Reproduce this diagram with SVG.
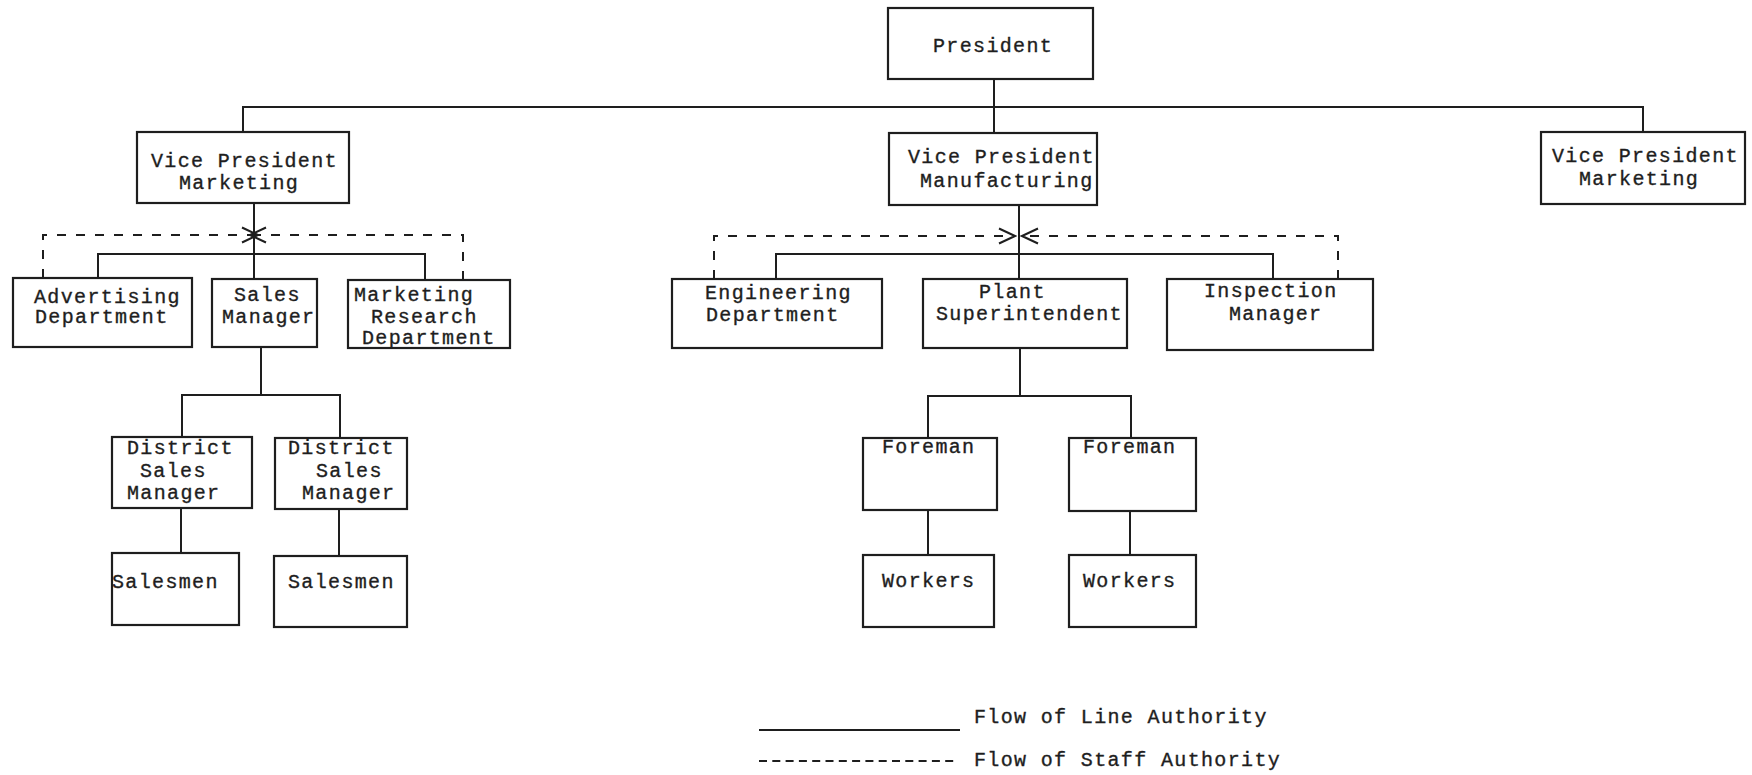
<svg xmlns="http://www.w3.org/2000/svg" width="1752" height="775" viewBox="0 0 1752 775">
  <style>
    .box { fill: #ffffff; stroke: #1e1e1e; stroke-width: 2.2; }
    .lbl { font-family: "Liberation Mono", "DejaVu Sans Mono", monospace; font-size: 20px; letter-spacing: 1.35px; fill: #1e1e1e; stroke: #1e1e1e; stroke-width: 0.35; }
    .line { fill: none; stroke: #1e1e1e; stroke-width: 2; }
    .staff { fill: none; stroke: #1e1e1e; stroke-width: 2; stroke-dasharray: 9 10; }
  </style>
  <defs>
    <marker id="chev" markerUnits="userSpaceOnUse" markerWidth="20" markerHeight="20" viewBox="-2 -2 20 20" refX="16" refY="7.5" orient="auto">
      <path d="M0,0 L16,7.5 L0,15" fill="none" stroke="#1e1e1e" stroke-width="2"/>
    </marker>
  </defs>
  <rect width="1752" height="775" fill="#ffffff"/>

  <!-- line authority and staff authority connectors -->
  <g id="connectors">
    <path class="line" d="M243 132 V107 H1643 V132"/>
    <path class="line" d="M994 79 V133"/>
    <path class="line" d="M254 203 V279"/>
    <path class="line" d="M98 278 V254 H425 V280"/>
    <path class="line" d="M261 347 V395"/>
    <path class="line" d="M182 437 V395 H340 V438"/>
    <path class="line" d="M181 508 V553"/>
    <path class="line" d="M339 509 V556"/>
    <path class="line" d="M1019 205 V279"/>
    <path class="line" d="M776 279 V254 H1273 V279"/>
    <path class="line" d="M1020 348 V396"/>
    <path class="line" d="M928 438 V396 H1131 V438"/>
    <path class="line" d="M928 510 V555"/>
    <path class="line" d="M1130 511 V555"/>
    <path class="staff" d="M43 278 V235 H258" marker-end="url(#chev)"/>
    <path class="staff" d="M463 280 V235 H250" marker-end="url(#chev)"/>
    <path class="staff" d="M714 279 V236 H1015" marker-end="url(#chev)"/>
    <path class="staff" d="M1338 279 V236 H1022" marker-end="url(#chev)"/>
  </g>

  <g id="president">
    <rect class="box" x="888" y="8" width="205" height="71"/>
    <text class="lbl" x="933" y="52">President</text>
  </g>
  <g id="vp-marketing-left">
    <rect class="box" x="137" y="132" width="212" height="71"/>
    <text class="lbl" x="151" y="167">Vice President</text>
    <text class="lbl" x="179" y="189">Marketing</text>
  </g>
  <g id="vp-manufacturing">
    <rect class="box" x="889" y="133" width="208" height="72"/>
    <text class="lbl" x="908" y="163">Vice President</text>
    <text class="lbl" x="920" y="187">Manufacturing</text>
  </g>
  <g id="vp-marketing-right">
    <rect class="box" x="1541" y="132" width="204" height="72"/>
    <text class="lbl" x="1552" y="162">Vice President</text>
    <text class="lbl" x="1579" y="185">Marketing</text>
  </g>
  <g id="advertising">
    <rect class="box" x="13" y="278" width="179" height="69"/>
    <text class="lbl" x="34" y="303">Advertising</text>
    <text class="lbl" x="35" y="323">Department</text>
  </g>
  <g id="sales-manager">
    <rect class="box" x="212" y="279" width="105" height="68"/>
    <text class="lbl" x="234" y="301">Sales</text>
    <text class="lbl" x="222" y="323">Manager</text>
  </g>
  <g id="marketing-research">
    <rect class="box" x="348" y="280" width="162" height="68"/>
    <text class="lbl" x="354" y="301">Marketing</text>
    <text class="lbl" x="371" y="323">Research</text>
    <text class="lbl" x="362" y="344">Department</text>
  </g>
  <g id="engineering">
    <rect class="box" x="672" y="279" width="210" height="69"/>
    <text class="lbl" x="705" y="299">Engineering</text>
    <text class="lbl" x="706" y="321">Department</text>
  </g>
  <g id="plant-superintendent">
    <rect class="box" x="923" y="279" width="204" height="69"/>
    <text class="lbl" x="979" y="298">Plant</text>
    <text class="lbl" x="936" y="320">Superintendent</text>
  </g>
  <g id="inspection-manager">
    <rect class="box" x="1167" y="279" width="206" height="71"/>
    <text class="lbl" x="1204" y="297">Inspection</text>
    <text class="lbl" x="1229" y="320">Manager</text>
  </g>
  <g id="district-1">
    <rect class="box" x="112" y="437" width="140" height="71"/>
    <text class="lbl" x="127" y="454">District</text>
    <text class="lbl" x="140" y="477">Sales</text>
    <text class="lbl" x="127" y="499">Manager</text>
  </g>
  <g id="district-2">
    <rect class="box" x="275" y="438" width="132" height="71"/>
    <text class="lbl" x="288" y="454">District</text>
    <text class="lbl" x="316" y="477">Sales</text>
    <text class="lbl" x="302" y="499">Manager</text>
  </g>
  <g id="salesmen-1">
    <rect class="box" x="112" y="553" width="127" height="72"/>
    <text class="lbl" x="112" y="588">Salesmen</text>
  </g>
  <g id="salesmen-2">
    <rect class="box" x="274" y="556" width="133" height="71"/>
    <text class="lbl" x="288" y="588">Salesmen</text>
  </g>
  <g id="foreman-1">
    <rect class="box" x="863" y="438" width="134" height="72"/>
    <text class="lbl" x="882" y="453">Foreman</text>
  </g>
  <g id="foreman-2">
    <rect class="box" x="1069" y="438" width="127" height="73"/>
    <text class="lbl" x="1083" y="453">Foreman</text>
  </g>
  <g id="workers-1">
    <rect class="box" x="863" y="555" width="131" height="72"/>
    <text class="lbl" x="882" y="587">Workers</text>
  </g>
  <g id="workers-2">
    <rect class="box" x="1069" y="555" width="127" height="72"/>
    <text class="lbl" x="1083" y="587">Workers</text>
  </g>

  <g id="legend">
    <path class="line" d="M759 730 H960"/>
    <path class="line" d="M759 761 H958" stroke-dasharray="8 5.3"/>
    <text class="lbl" x="974" y="723">Flow of Line Authority</text>
    <text class="lbl" x="974" y="766">Flow of Staff Authority</text>
  </g>
</svg>
